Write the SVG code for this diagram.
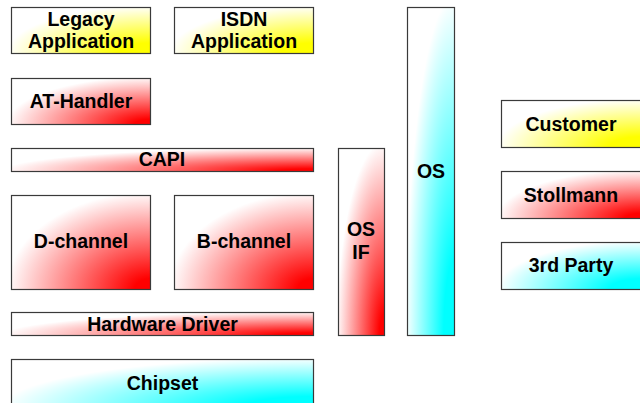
<svg xmlns="http://www.w3.org/2000/svg" width="640" height="403" viewBox="0 0 640 403">
<defs>
<radialGradient id="gy" cx="1" cy="1" r="1.15" fx="1" fy="1"><stop offset="0" stop-color="#ffff00"/><stop offset="0.2" stop-color="#ffff00"/><stop offset="0.9" stop-color="#ffffff"/></radialGradient>
<radialGradient id="gr" cx="1" cy="1" r="1.15" fx="1" fy="1"><stop offset="0" stop-color="#ff0000"/><stop offset="0.1" stop-color="#ff0000"/><stop offset="0.9" stop-color="#ffffff"/></radialGradient>
<radialGradient id="gc" cx="1" cy="1" r="1.15" fx="1" fy="1"><stop offset="0" stop-color="#00ffff"/><stop offset="0.2" stop-color="#00ffff"/><stop offset="0.9" stop-color="#ffffff"/></radialGradient>
</defs>
<style>
rect{stroke:#3a3a3a;stroke-width:1.2}
.y{fill:url(#gy)}.r{fill:url(#gr)}.c{fill:url(#gc)}
text{font-family:"Liberation Sans",Arial,sans-serif;font-weight:bold;font-size:19.5px;fill:#000;text-anchor:middle}
</style>
<rect width="640" height="403" fill="#fff" style="stroke:none"/>
<g id="legacy"><rect class="y" x="11.5" y="7.5" width="139" height="46"/><text x="81" y="26">Legacy</text><text x="81" y="48">Application</text></g>
<g id="isdn"><rect class="y" x="174.5" y="7.5" width="139" height="46"/><text x="244" y="26">ISDN</text><text x="244" y="48">Application</text></g>
<g id="at"><rect class="r" x="11.5" y="78.5" width="139" height="46"/><text x="81" y="107.5">AT-Handler</text></g>
<g id="capi"><rect class="r" x="11.5" y="148.5" width="302" height="23"/><text x="162" y="166">CAPI</text></g>
<g id="dch"><rect class="r" x="11.5" y="195.5" width="139" height="94"/><text x="81" y="248">D-channel</text></g>
<g id="bch"><rect class="r" x="174.5" y="195.5" width="139" height="94"/><text x="244" y="248">B-channel</text></g>
<g id="hw"><rect class="r" x="11.5" y="312.5" width="302" height="23"/><text x="162.5" y="331">Hardware Driver</text></g>
<g id="osif"><rect class="r" x="338.5" y="148.5" width="46" height="187"/><text x="361" y="236">OS</text><text x="361" y="259">IF</text></g>
<g id="os"><rect class="c" x="407.5" y="7.5" width="47" height="328"/><text x="431" y="177.5">OS</text></g>
<g id="customer"><rect class="y" x="501.5" y="100.5" width="140" height="47"/><text x="571" y="130.5">Customer</text></g>
<g id="stollmann"><rect class="r" x="501.5" y="171.5" width="140" height="47"/><text x="571" y="201.5">Stollmann</text></g>
<g id="thirdparty"><rect class="c" x="501.5" y="242.5" width="140" height="47"/><text x="571" y="272">3rd Party</text></g>
<g id="chipset"><rect class="c" x="11.5" y="359.5" width="302" height="48"/><text x="162.5" y="390">Chipset</text></g>
<g id="connectors"></g>
</svg>
